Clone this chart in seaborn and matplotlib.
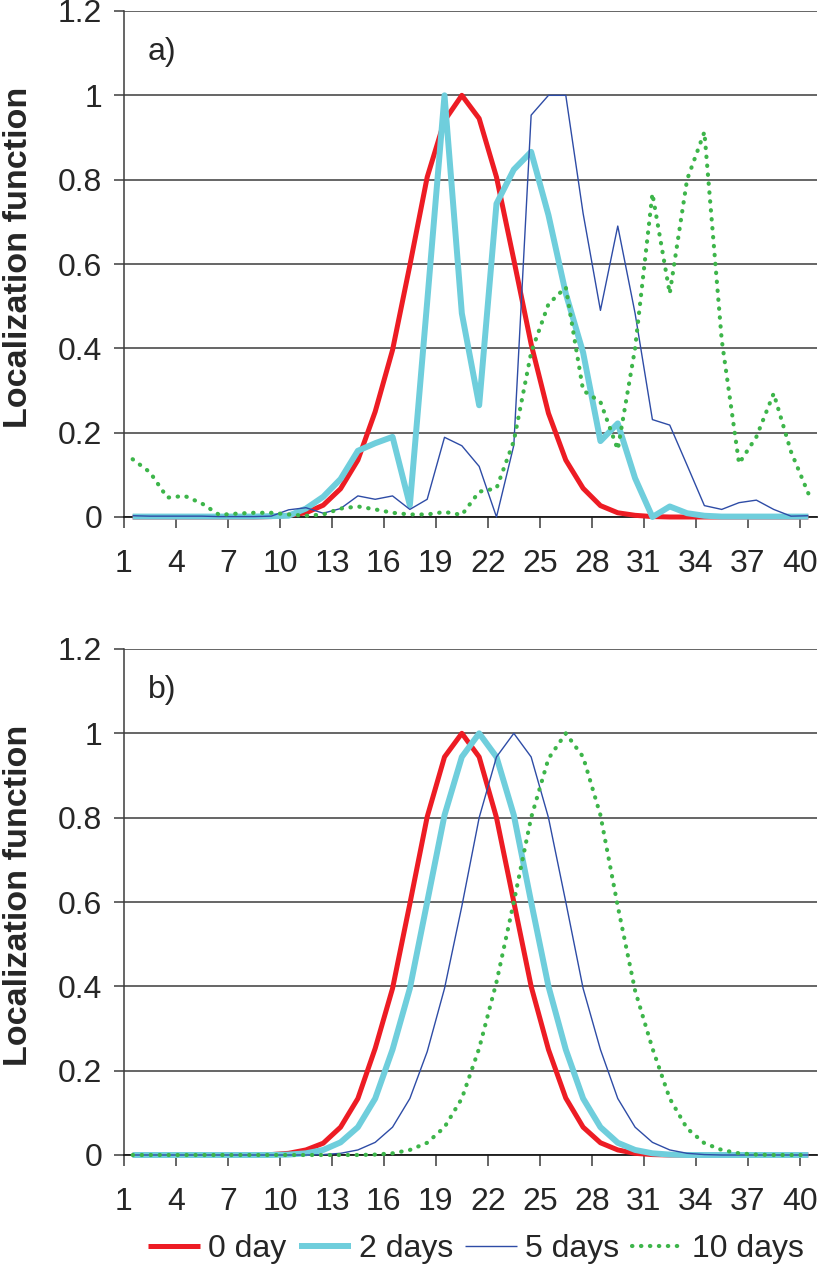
import numpy as np
import pandas as pd
import matplotlib
matplotlib.use("Agg")
import matplotlib.pyplot as plt
import seaborn as sns

# ---------------- data ----------------
positions = list(range(1, 41))
tick_labels = ["1", "4", "7", "10", "13", "16", "19", "22", "25", "28", "31", "34", "37", "40"]
series_names = ["0 day", "2 days", "5 days", "10 days"]

a_day0 = [0, 0, 0, 0, 0, 0, 0, 0, 0.001, 0.004,
          0.01, 0.028, 0.067, 0.135, 0.25, 0.396, 0.597, 0.806, 0.94, 1.0,
          0.945, 0.806, 0.61, 0.41, 0.246, 0.135, 0.068, 0.027, 0.01, 0.004,
          0.001, 0, 0, 0, 0, 0, 0, 0, 0, 0]
a_day2 = [0.001, 0.001, 0.001, 0.001, 0.001, 0.001, 0.001, 0.001, 0.002, 0.003,
          0.02, 0.048, 0.09, 0.157, 0.175, 0.19, 0.028, 0.51, 1.0, 0.483,
          0.265, 0.743, 0.824, 0.866, 0.716, 0.53, 0.39, 0.18, 0.222, 0.092,
          0.0, 0.025, 0.009, 0.003, 0.001, 0.001, 0.001, 0.001, 0.001, 0.001]
a_day5 = [0.003, 0.002, 0.002, 0.002, 0.002, 0.001, 0.001, 0.001, 0.002, 0.017,
          0.022, 0.009, 0.02, 0.05, 0.042, 0.05, 0.018, 0.042, 0.189, 0.169,
          0.12, 0.0, 0.17, 0.953, 1.0, 1.0, 0.72, 0.49, 0.69, 0.483,
          0.231, 0.218, 0.123, 0.027, 0.018, 0.034, 0.04, 0.018, 0.002, 0.003]
a_day10 = [0.137, 0.106, 0.046, 0.05, 0.032, 0.005, 0.008, 0.01, 0.01, 0.006,
           0.003, 0.006, 0.02, 0.025, 0.018, 0.01, 0.006, 0.006, 0.012, 0.005,
           0.06, 0.068, 0.18, 0.39, 0.505, 0.545, 0.30, 0.273, 0.16, 0.40,
           0.767, 0.53, 0.80, 0.913, 0.42, 0.127, 0.19, 0.293, 0.155, 0.056]

b_day0 = [0, 0, 0, 0, 0, 0, 0, 0, 0.001, 0.004,
          0.012, 0.028, 0.066, 0.134, 0.253, 0.395, 0.596, 0.802, 0.944, 1.0,
          0.944, 0.80, 0.60, 0.40, 0.25, 0.135, 0.066, 0.029, 0.012, 0.004,
          0.001, 0, 0, 0, 0, 0, 0, 0, 0, 0]
b_day2 = [0, 0, 0, 0, 0, 0, 0, 0, 0, 0.001,
          0.004, 0.012, 0.03, 0.066, 0.134, 0.25, 0.395, 0.60, 0.806, 0.944,
          1.0, 0.944, 0.806, 0.60, 0.40, 0.25, 0.134, 0.066, 0.029, 0.012,
          0.004, 0.001, 0, 0, 0, 0, 0, 0, 0, 0]
b_day5 = [0, 0, 0, 0, 0, 0, 0, 0, 0, 0,
          0, 0.001, 0.004, 0.012, 0.03, 0.066, 0.134, 0.245, 0.395, 0.59,
          0.80, 0.944, 1.0, 0.944, 0.80, 0.60, 0.395, 0.25, 0.134, 0.066,
          0.03, 0.012, 0.004, 0.001, 0, 0, 0, 0, 0, 0]
b_day10 = [0, 0, 0, 0, 0, 0, 0, 0, 0, 0,
           0, 0, 0, 0, 0.001, 0.004, 0.012, 0.029, 0.066, 0.134,
           0.253, 0.41, 0.60, 0.80, 0.94, 1.0, 0.944, 0.806, 0.59, 0.39,
           0.253, 0.134, 0.063, 0.028, 0.012, 0.004, 0.001, 0, 0, 0]

# ---------------- style ----------------
sns.set_theme(style="white")
plt.rcParams["font.family"] = ["Liberation Sans", "DejaVu Sans"]

colors = ["#ED1C24", "#6FCEDC", "#2E4CA6", "#3DB54A"]
widths = [3.6, 4.3, 1.0, 3.0]
styles = ["-", "-", "-", (0, (0.1, 2.05))]

FS = 23
W, H = 824, 1267
fig = plt.figure(figsize=(W / 100, H / 100), dpi=100)

def ax_rect(top_px, bottom_px, left_px=124, right_px=817):
    return [left_px / W, 1 - bottom_px / H, (right_px - left_px) / W, (bottom_px - top_px) / H]

ax_a = fig.add_axes(ax_rect(11, 517))
ax_b = fig.add_axes(ax_rect(649, 1155))

panels = [
    (ax_a, [a_day0, a_day2, a_day5, a_day10], "a)"),
    (ax_b, [b_day0, b_day2, b_day5, b_day10], "b)"),
]

grid_col = "#3C3C3C"
for ax, data, tag in panels:
    df = pd.DataFrame({"pos": positions})
    for name, vals in zip(series_names, data):
        df[name] = vals
    for name, c, lw, ls in zip(series_names, colors, widths, styles):
        sns.lineplot(data=df, x="pos", y=name, ax=ax, color=c, lw=lw,
                     linestyle=ls, dash_capstyle="round", solid_capstyle="butt",
                     label=name, clip_on=False, zorder=3)
    ax.set_xlim(0.5, 40.5)
    ax.set_ylim(0, 1.2)
    ax.set_xticks([int(t) - 0.5 for t in tick_labels])
    ax.set_xticklabels(tick_labels)
    yt = [0, 0.2, 0.4, 0.6, 0.8, 1.0, 1.2]
    ax.set_yticks(yt)
    ax.set_yticklabels(["0", "0.2", "0.4", "0.6", "0.8", "1", "1.2"])
    ax.yaxis.grid(True, color=grid_col, lw=1.1, zorder=1)
    ax.xaxis.grid(False)
    for s in ["top", "right"]:
        ax.spines[s].set_visible(False)
    ax.spines["left"].set_color(grid_col)
    ax.spines["left"].set_linewidth(1.1)
    ax.spines["bottom"].set_color("#1a1a1a")
    ax.spines["bottom"].set_linewidth(1.3)
    ax.tick_params(axis="y", direction="out", length=7.5, width=1.1, color=grid_col,
                   pad=8.0, labelsize=FS, left=True)
    ax.tick_params(axis="x", direction="out", length=8, width=1.1, color=grid_col,
                   pad=15, labelsize=FS, bottom=True)
    ax.set_xlabel("")
    ax.set_ylabel("")
    ax.text(0.034, 0.918, tag, transform=ax.transAxes, fontsize=FS,
            ha="left", va="center")
    handles, labels = ax.get_legend_handles_labels()
    ax.get_legend().remove()

fig.text(19 / W, 1 - 257 / H, "Localization function", rotation=90,
         fontsize=24.6, fontweight="bold", ha="center", va="center")
fig.text(19 / W, 1 - 895 / H, "Localization function", rotation=90,
         fontsize=24.6, fontweight="bold", ha="center", va="center")

fig.legend(handles, labels, loc="center", bbox_to_anchor=(476 / W, 1 - 1249 / H),
           ncol=4, frameon=False, fontsize=FS, handlelength=1.63,
           handletextpad=0.25, columnspacing=0.38, borderaxespad=0)

fig.savefig("out.png", dpi=100)
